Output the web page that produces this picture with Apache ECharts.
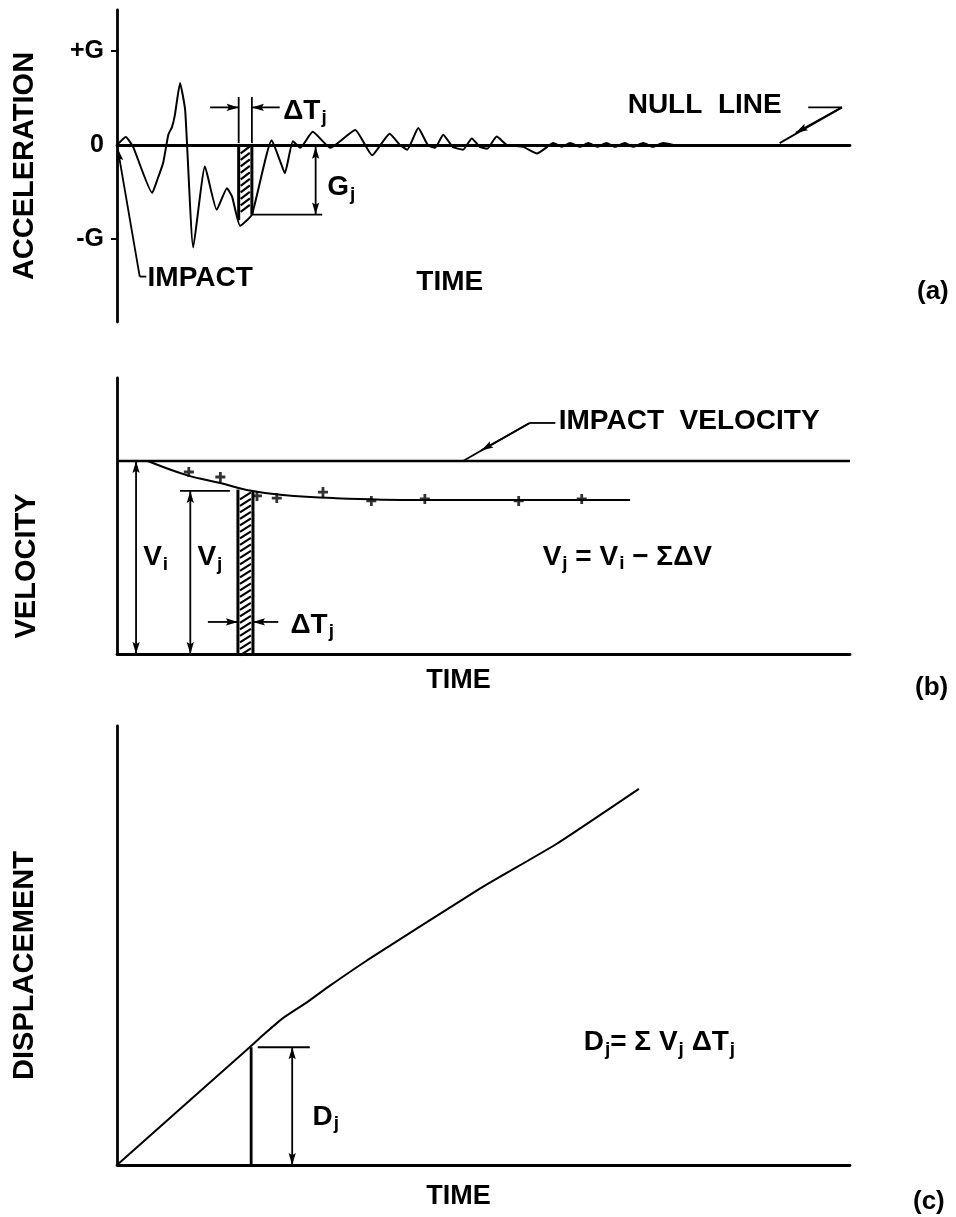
<!DOCTYPE html>
<html><head><meta charset="utf-8">
<script src="https://cdn.jsdelivr.net/npm/echarts@6/dist/echarts.min.js"></script>
<style>html,body{margin:0;padding:0;background:#fff}#c{width:956px;height:1217px}</style>
</head><body><div id="c"></div><script>
// ---------- DATA ----------
// (a) acceleration trace: time (0..100 arbitrary units), acceleration in G
const accTime  = [0, 1.2, 2.2, 4.8, 5.5, 6.3, 7.0, 7.5, 7.9, 8.6, 9.3, 10.4, 12.0, 13.6, 15.0, 15.7, 16.8, 18.4, 21.1, 22.2, 22.9, 24.0, 25.0, 26.7, 29.1, 32.5, 34.8, 37.2, 38.6, 39.6, 41.1, 42.4, 43.4, 44.5, 45.8, 47.2, 48.4, 49.5, 50.5, 51.8, 53.2, 55.4, 57.3, 58.7, 59.5, 60.7, 61.8, 63.2, 64.3, 65.5, 66.8, 67.9, 69.3, 70.4, 71.8, 73.1, 74.5, 75.9];
const accValue = [0, 0.085, -0.02, -0.51, -0.37, -0.19, 0.11, 0.19, 0.32, 0.66, 0.37, -1.09, -0.23, -0.69, -0.46, -0.55, -0.86, -0.74, 0.05, -0.16, -0.30, 0.04, -0.03, 0.14, -0.03, 0.16, -0.11, 0.12, 0, -0.05, 0.18, 0, -0.03, 0.11, -0.02, -0.05, 0.07, -0.02, -0.04, 0.09, 0, -0.02, -0.09, -0.02, 0.02, -0.02, 0.02, -0.02, 0.02, -0.02, 0.02, -0.02, 0.02, -0.02, 0.02, -0.02, 0.02, 0];
const gTickValues = [1, 0, -1];
const gTickLabels = ['+G', '0', '-G'];
// (b) velocity (impact velocity = 1)
const impactVelocity = 1;
const velTime  = [4.2, 9.5, 14.1, 17.7, 22.6, 29.5, 41.3, 55.0, 70.0];
const velValue = [1.0, 0.927, 0.886, 0.850, 0.824, 0.808, 0.798, 0.798, 0.798];
const velPlusTime  = [9.8, 14.1, 19.1, 21.8, 28.1, 34.7, 42.0, 54.8, 63.4];
const velPlusValue = [0.943, 0.917, 0.819, 0.808, 0.839, 0.793, 0.803, 0.793, 0.803];
// (c) displacement
const dispTime  = [0, 18.1, 20.2, 22.6, 25.9, 29.1, 34.1, 49.5, 60.0, 71.2];
const dispValue = [0, 1.18, 1.32, 1.47, 1.63, 1.80, 2.05, 2.77, 3.22, 3.77];
// hatched interval  [t0, t1, value at t0, value at t1]
const accStrip = [16.6, 18.4, -0.80, -0.74];
const velStrip = [16.5, 18.55, 0.852, 0.845];

// ---------- helpers ----------
const FONT = '"Liberation Sans", Arial, Helvetica, sans-serif';
const BLK = '#000';
const zip = (a, b) => a.map((v, i) => [v, b[i]]);
const rich = {
  m: {fontSize: 28, fontWeight: 'bold', fontFamily: FONT, color: BLK},
  s: {fontSize: 19, fontWeight: 'bold', fontFamily: FONT, color: BLK, padding: [14, 0, 0, 1]}
};
function lbl(t, v, fmt, pos) {
  return {value: [t, v], label: {show: true, position: pos || 'right', distance: 0, formatter: fmt, rich: rich,
    color: BLK, textBorderWidth: 0, opacity: 1}};
}
// annotation segment: [x1, y1, x2, y2, arrowAtStart, arrowAtEnd, lineWidth]
function seg(p, q, arrowEnd, arrowStart, width) {
  return [p[0], p[1], q[0], q[1], arrowStart ? 1 : 0, arrowEnd ? 1 : 0, width || 1.8];
}
function head(tip, from) {
  const dx = tip[0] - from[0], dy = tip[1] - from[1];
  const L = Math.hypot(dx, dy) || 1, ux = dx / L, uy = dy / L;
  const len = 12, half = 3.6;
  const bx = tip[0] - ux * len, by = tip[1] - uy * len;
  return {type: 'polygon', shape: {points: [[tip[0], tip[1]], [bx - uy * half, by + ux * half], [tip[0] - ux * len * 0.82, tip[1] - uy * len * 0.82], [bx + uy * half, by - ux * half]]},
    style: {fill: BLK}};
}
function annRender(params, api) {
  const p = api.coord([api.value(0), api.value(1)]);
  const q = api.coord([api.value(2), api.value(3)]);
  const children = [{type: 'line', shape: {x1: p[0], y1: p[1], x2: q[0], y2: q[1]},
    style: {stroke: BLK, lineWidth: api.value(6)}}];
  if (api.value(4)) children.push(head(p, q));
  if (api.value(5)) children.push(head(q, p));
  return {type: 'group', children: children};
}
function annSeries(xi, segs) {
  return {type: 'custom', xAxisIndex: xi, yAxisIndex: xi, renderItem: annRender, data: segs, silent: true,
    encode: {x: [0, 2], y: [1, 3]}, clip: false};
}
function textSeries(xi, items) {
  return {
    type: 'scatter', xAxisIndex: xi, yAxisIndex: xi, symbolSize: 1, silent: true, animation: false,
    clip: false, itemStyle: {color: 'rgba(255,255,255,0)'}, data: items
  };
}
function hatchRender(params, api) {
  const t0 = api.value(0), t1 = api.value(1), v0 = api.value(2), v1 = api.value(3);
  const a = api.coord([t0, 0]), b = api.coord([t1, 0]);
  const d = api.coord([t0, v0]), c = api.coord([t1, v1]);
  const top = Math.max(Math.min(a[1], d[1]), Math.min(b[1], c[1]));
  const bot = Math.min(Math.max(a[1], d[1]), Math.max(b[1], c[1]));
  const children = [];
  for (let y = top + 5; y < bot - 2; y += 6.5) {
    children.push({type: 'line', shape: {x1: a[0] + 2, y1: y + 3.5, x2: b[0] - 2, y2: y - 3.5},
      style: {stroke: BLK, lineWidth: 2.2}});
  }
  children.push({type: 'line', shape: {x1: a[0], y1: a[1], x2: d[0], y2: d[1]}, style: {stroke: BLK, lineWidth: 3}});
  children.push({type: 'line', shape: {x1: b[0], y1: b[1], x2: c[0], y2: c[1]}, style: {stroke: BLK, lineWidth: 3}});
  return {type: 'group', children: children};
}
const axisLine = {show: true, onZero: true, lineStyle: {color: BLK, width: 2.8}};
const nameStyle = {fontSize: 29, fontWeight: 'bold', fontFamily: FONT, color: BLK};
function xAx(gi, name, gap, pad) {
  return {type: 'value', gridIndex: gi, min: 0, max: 100, axisLine: axisLine, axisTick: {show: false},
    axisLabel: {show: false}, splitLine: {show: false},
    name: name, nameLocation: 'middle', nameGap: gap,
    nameTextStyle: Object.assign({padding: [0, pad, 0, 0]}, nameStyle, {fontSize: 27})};
}
function yAx(gi, min, max, name, gap, pad) {
  return {type: 'value', gridIndex: gi, min: min, max: max, axisLine: axisLine, axisTick: {show: false},
    axisLabel: {show: false}, splitLine: {show: false},
    name: name, nameLocation: 'middle', nameRotate: 90, nameGap: gap,
    nameTextStyle: Object.assign({padding: [0, pad, 0, 0]}, nameStyle)};
}

const yA = yAx(0, -1.883, 1.436, 'ACCELERATION', 78, 0);
yA.axisTick = {show: true, customValues: [1, -1], length: 6, lineStyle: {color: BLK, width: 2}};
yA.axisLabel = {show: true, customValues: gTickValues, margin: 13, fontSize: 25, fontWeight: 'bold', fontFamily: FONT, color: BLK,
  formatter: v => gTickLabels[gTickValues.indexOf(v)] || ''};

const titleStyle = {fontSize: 26, fontWeight: 'bold', fontFamily: FONT, color: BLK};
const option = {
  backgroundColor: '#fff',
  animation: false,
  title: [
    {text: '(a)', left: 912, top: 274, textStyle: titleStyle},
    {text: '(b)', left: 910, top: 670, textStyle: titleStyle},
    {text: '(c)', left: 908, top: 1184, textStyle: titleStyle}
  ],
  grid: [
    {left: 117, top: 10, width: 733, height: 312},
    {left: 117, top: 378, width: 733, height: 276},
    {left: 117, top: 726, width: 733, height: 439}
  ],
  xAxis: [xAx(0, '', 10, 0), xAx(1, 'TIME', 13, 50), xAx(2, 'TIME', 18, 50)],
  yAxis: [yA, yAx(1, 0, 1.43, 'VELOCITY', 76, 100), yAx(2, 0, 4.4, 'DISPLACEMENT', 78, 40)],
  series: [
    // ---- (a) ----
    {type: 'line', xAxisIndex: 0, yAxisIndex: 0, data: zip(accTime, accValue), smooth: 0.15, symbol: 'none',
      lineStyle: {color: BLK, width: 2}, silent: true},
    {type: 'custom', xAxisIndex: 0, yAxisIndex: 0, renderItem: hatchRender, data: [accStrip], silent: true},
    annSeries(0, [
      seg([16.6, 0.51], [16.6, 0.02], false, false, 1.8),
      seg([18.4, 0.51], [18.4, 0.02], false, false, 1.8),
      seg([12.7, 0.40], [16.6, 0.40], true, false),
      seg([22.2, 0.40], [18.4, 0.40], true, false),
      seg([18.4, -0.74], [28.0, -0.74], false, false),
      seg([27.1, -0.02], [27.1, -0.74], true, true),
      seg([3.1, -1.40], [0.1, -0.04], true, false),
      seg([3.1, -1.40], [4.0, -1.40], false, false),
      seg([94.3, 0.40], [98.9, 0.40], false, false),
      seg([98.9, 0.40], [90.4, 0.02], false, false),
      seg([98.9, 0.40], [92.6, 0.13], true, false)
    ]),
    textSeries(0, [
      lbl(22.6, 0.36, '{m|ΔT}{s|j}'),
      lbl(28.6, -0.45, '{m|G}{s|j}'),
      lbl(4.1, -1.415, '{m|IMPACT}'),
      lbl(69.6, 0.425, '{m|NULL  LINE}'),
      lbl(45.4, -1.46, '{m|TIME}', 'inside')
    ]),
    // ---- (b) ----
    {type: 'line', xAxisIndex: 1, yAxisIndex: 1, data: [[0, impactVelocity], [100, impactVelocity]], symbol: 'none',
      lineStyle: {color: BLK, width: 2.6}, silent: true},
    {type: 'line', xAxisIndex: 1, yAxisIndex: 1, data: zip(velTime, velValue), smooth: 0.4, symbol: 'none',
      lineStyle: {color: BLK, width: 2}, silent: true},
    {type: 'scatter', xAxisIndex: 1, yAxisIndex: 1, data: zip(velPlusTime, velPlusValue), silent: true,
      symbol: 'path://M3.6,0H6.4V3.6H10V6.4H6.4V10H3.6V6.4H0V3.6H3.6Z', symbolSize: 10, itemStyle: {color: BLK}},
    {type: 'custom', xAxisIndex: 1, yAxisIndex: 1, renderItem: hatchRender, data: [velStrip], silent: true},
    annSeries(1, [
      seg([2.6, 0.0], [2.6, 1.0], true, true),
      seg([10.0, 0.0], [10.0, 0.845], true, true),
      seg([8.6, 0.845], [15.4, 0.845], false, false),
      seg([12.4, 0.166], [16.5, 0.166], true, false),
      seg([22.0, 0.166], [18.55, 0.166], true, false),
      seg([56.3, 1.197], [59.8, 1.197], false, false),
      seg([56.3, 1.197], [47.2, 1.0], false, false),
      seg([56.3, 1.197], [49.7, 1.055], true, false)
    ]),
    textSeries(1, [
      lbl(3.5, 0.50, '{m|V}{s|i}'),
      lbl(10.9, 0.50, '{m|V}{s|j}'),
      lbl(23.6, 0.15, '{m|ΔT}{s|j}'),
      lbl(60.2, 1.205, '{m|IMPACT  VELOCITY}'),
      lbl(58.0, 0.503, '{m|V}{s|j}{m| = V}{s|i}{m| − ΣΔV}')
    ]),
    // ---- (c) ----
    {type: 'line', xAxisIndex: 2, yAxisIndex: 2, data: zip(dispTime, dispValue), smooth: 0.15,
      symbol: 'none', lineStyle: {color: BLK, width: 2}, silent: true},
    annSeries(2, [
      seg([18.3, 0.0], [18.3, 1.18], false, false, 2.8),
      seg([19.2, 1.18], [26.3, 1.18], false, false),
      seg([23.9, 0.0], [23.9, 1.18], true, true)
    ]),
    textSeries(2, [
      lbl(26.6, 0.48, '{m|D}{s|j}'),
      lbl(63.6, 1.23, '{m|D}{s|j}{m|= Σ V}{s|j}{m| ΔT}{s|j}')
    ])
  ]
};
const chart = echarts.init(document.getElementById('c'), null, {renderer: 'canvas'});
chart.setOption(option);
</script></body></html>
